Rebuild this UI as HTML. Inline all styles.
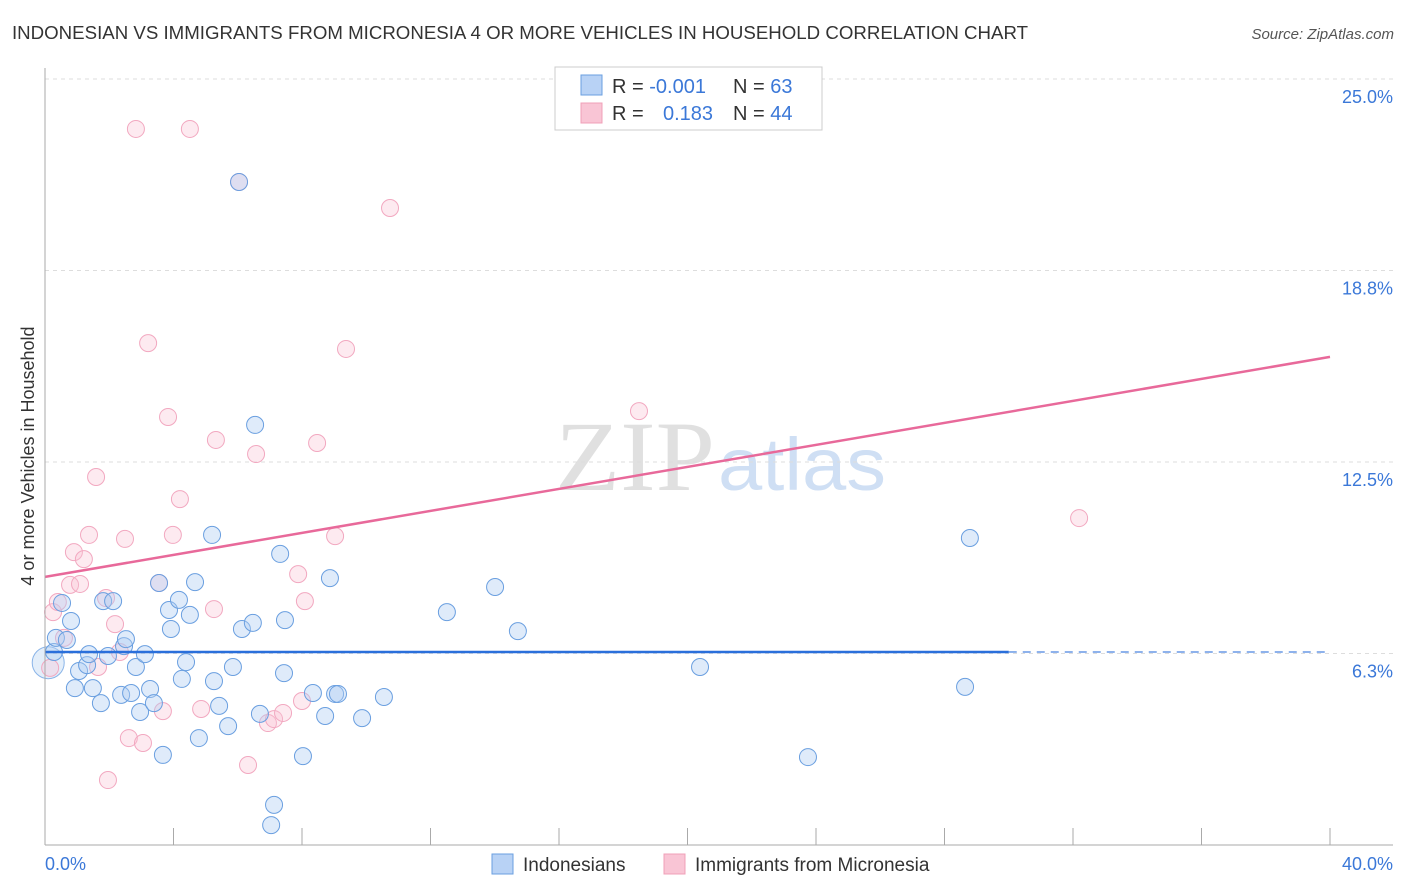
<!DOCTYPE html>
<html><head><meta charset="utf-8"><style>
body{margin:0;background:#fff;font-family:"Liberation Sans",sans-serif;}
#wrap{position:relative;width:1406px;height:892px;overflow:hidden;}
</style></head><body>
<div id="wrap">
<svg id="svg" width="1406" height="892" xmlns="http://www.w3.org/2000/svg">
<text x="12" y="39" font-size="18" fill="#333" textLength="1016" lengthAdjust="spacingAndGlyphs">INDONESIAN VS IMMIGRANTS FROM MICRONESIA 4 OR MORE VEHICLES IN HOUSEHOLD CORRELATION CHART</text>
<text x="1394" y="39" font-size="15" fill="#555" font-style="italic" text-anchor="end">Source: ZipAtlas.com</text>
<text x="715" y="490" font-size="100" fill="#e0e0e0" text-anchor="end" textLength="160" lengthAdjust="spacingAndGlyphs" font-family="Liberation Serif, serif">ZIP</text>
<text x="718" y="490" font-size="74" fill="#cfdff4" textLength="168" lengthAdjust="spacingAndGlyphs">atlas</text>
<text transform="translate(34,456) rotate(-90)" font-size="18" fill="#333" text-anchor="middle">4 or more Vehicles in Household</text>
<g id="grid"></g><g id="marks"></g><g id="lines"></g>
<line x1="45" y1="68" x2="45" y2="845" stroke="#aaa"/>
<line x1="45" y1="845" x2="1393" y2="845" stroke="#aaa"/>
<text x="45" y="870" font-size="18" fill="#3b78d8">0.0%</text>
<text x="1393" y="870" font-size="18" fill="#3b78d8" text-anchor="end">40.0%</text>
<g>
<rect x="555" y="67" width="267" height="63" fill="#fff" stroke="#ccc"/>
<rect x="581" y="75" width="21" height="20" fill="#b8d2f5" stroke="#6a9fe0"/>
<rect x="581" y="103" width="21" height="20" fill="#f9c5d5" stroke="#f0a0b8"/>
<text x="612" y="93" font-size="20" fill="#333">R = <tspan fill="#3b78d8">-0.001</tspan></text>
<text x="733" y="93" font-size="20" fill="#333">N = <tspan fill="#3b78d8">63</tspan></text>
<text x="612" y="120" font-size="20" fill="#333">R = <tspan fill="#3b78d8" x="663">0.183</tspan></text>
<text x="733" y="120" font-size="20" fill="#333">N = <tspan fill="#3b78d8">44</tspan></text>
</g>
<g>
<rect x="492" y="854" width="21" height="20" fill="#b8d2f5" stroke="#6a9fe0"/>
<text x="523" y="871" font-size="19" fill="#333">Indonesians</text>
<rect x="664" y="854" width="21" height="20" fill="#f9c5d5" stroke="#f0a0b8"/>
<text x="695" y="871" font-size="19" fill="#333">Immigrants from Micronesia</text>
</g>
</svg>
</div>
<script>
const yTicks=[6.25,12.5,18.75,25];
const yTickLabels=["6.3%","12.5%","18.8%","25.0%"];
const xTicks=[0,4,8,12,16,20,24,28,32,36,40];
const blueX=[0.28,0.34,0.53,0.68,0.81,0.93,1.06,1.31,1.37,1.49,1.74,1.81,1.96,2.12,2.37,2.46,2.52,2.68,2.83,2.96,3.11,3.27,3.39,3.55,3.67,3.86,3.92,4.17,4.26,4.39,4.51,4.67,4.79,5.20,5.26,5.42,5.70,5.85,6.13,6.47,6.54,6.69,7.04,7.13,7.32,7.44,7.47,8.03,8.34,8.72,8.87,9.03,9.12,9.87,10.55,12.51,14.01,14.72,20.39,23.75,28.64,28.79,6.04];
const blueY=[6.30,6.76,7.90,6.69,7.31,5.12,5.68,5.87,6.23,5.12,4.63,7.96,6.17,7.96,4.90,6.49,6.72,4.96,5.81,4.34,6.23,5.09,4.63,8.55,2.94,7.67,7.05,8.00,5.42,5.97,7.51,8.58,3.49,10.12,5.35,4.54,3.88,5.81,7.05,7.25,13.71,4.28,0.65,1.31,9.50,5.61,7.34,2.90,4.96,4.21,8.71,4.93,4.93,4.14,4.83,7.60,8.42,6.98,5.81,2.87,5.16,10.02,21.64];
const pinkX=[0.16,0.25,0.40,0.59,0.78,0.90,1.09,1.21,1.37,1.59,1.65,1.90,1.96,2.18,2.33,2.49,2.61,2.83,3.05,3.21,3.55,3.67,3.83,3.98,4.20,4.86,5.26,5.32,6.32,6.57,6.94,7.13,7.41,7.88,8.00,8.09,8.47,9.03,9.37,4.51,10.74,18.49,32.19,6.04];
const pinkY=[5.78,7.60,7.93,6.76,8.49,9.56,8.52,9.33,10.12,12.01,5.81,8.06,2.12,7.21,6.30,9.99,3.49,23.37,3.33,16.38,8.55,4.37,13.97,10.12,11.29,4.44,7.70,13.22,2.61,12.76,3.98,4.11,4.31,8.84,4.70,7.96,13.12,10.08,16.19,23.37,20.79,14.16,10.67,21.64];
const blueTrend=[6.30,6.30];
const pinkTrend=[8.75,15.93];
const xs=v=>45+v/40*1285;
const ys=v=>79+(25-v)*(766/25);
const NS="http://www.w3.org/2000/svg";
function mk(parent,tag,attrs){const e=document.createElementNS(NS,tag);for(const k in attrs)e.setAttribute(k,attrs[k]);document.getElementById(parent).appendChild(e);return e;}
yTicks.forEach((t,i)=>{
 const l=mk('grid','line',{x1:45,x2:1393,y1:ys(t),y2:ys(t),stroke:'#ddd','stroke-dasharray':'4,4'});
 
 
 const tx=mk('grid','text',{x:1393,y:ys(t)+24,'font-size':18,fill:'#3b78d8','text-anchor':'end'});
 tx.textContent=yTickLabels[i];
 
 
});
xTicks.forEach(t=>{
 const l=mk('grid','line',{x1:xs(t),x2:xs(t),y1:828,y2:845,stroke:'#aaa'});
 
 
});
const b0=mk('marks','circle',{cx:xs(0.1),cy:ys(5.95),r:16,fill:'rgba(175,205,242,0.35)',stroke:'#8ab4e8','stroke-width':1});


pinkX.forEach((x,i)=>{
 const c=mk('marks','circle',{cx:xs(x),cy:ys(pinkY[i]),r:8.5,fill:'rgba(248,195,212,0.35)',stroke:'#f2a8c0','stroke-width':1});
 
 
});
blueX.forEach((x,i)=>{
 const c=mk('marks','circle',{cx:xs(x),cy:ys(blueY[i]),r:8.5,fill:'rgba(175,205,242,0.4)',stroke:'#6a9fe0','stroke-width':1});
 
 
});
const bl=mk('lines','line',{x1:xs(0),y1:ys(blueTrend[0]),x2:xs(30),y2:ys(blueTrend[0]+(blueTrend[1]-blueTrend[0])*0.75),stroke:'#2a6fdb','stroke-width':2.5});


const bd=mk('lines','line',{x1:xs(30),y1:ys(blueTrend[0]+(blueTrend[1]-blueTrend[0])*0.75),x2:xs(40),y2:ys(blueTrend[1]),stroke:'#2a6fdb','stroke-width':1.5,'stroke-dasharray':'8,6','opacity':0.7});


const pl=mk('lines','line',{x1:xs(0),y1:ys(pinkTrend[0]),x2:xs(40),y2:ys(pinkTrend[1]),stroke:'#e8699a','stroke-width':2.5});


</script>
</body></html>
